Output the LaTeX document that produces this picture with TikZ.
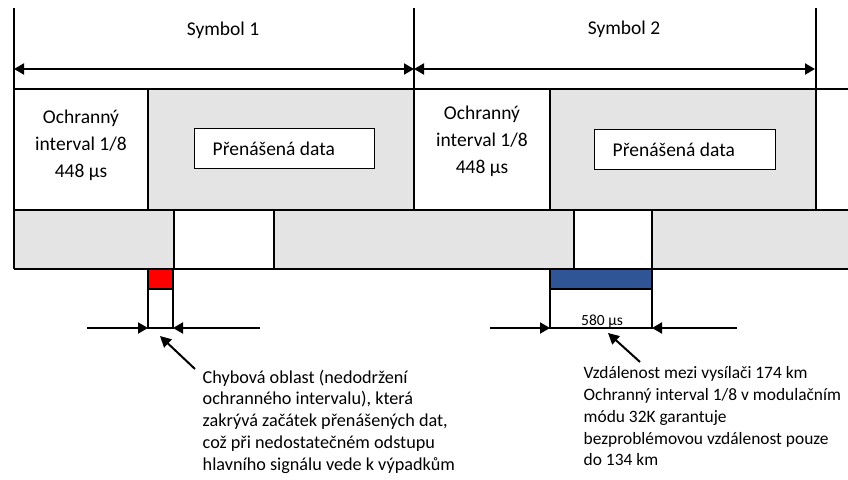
\documentclass[tikz,border=0pt]{standalone}
\usepackage{fontspec}
\setmainfont{Carlito}
\usetikzlibrary{arrows.meta}
\definecolor{gr}{HTML}{E4E4E4}
\definecolor{bl}{HTML}{2F5597}
\begin{document}
\begin{tikzpicture}[x=1pt,y=-1pt,line width=1.4pt,
  big/.style={font=\fontsize{19.5}{27}\selectfont},
  note/.style={font=\fontsize{18.2}{21.8}\selectfont, align=left, anchor=north west, inner sep=0pt},
  noteb/.style={note, font=\fontsize{17.4}{21.8}\selectfont},
  dim/.style={line width=2pt, -{Triangle[length=10pt,width=11pt]}},
  dimboth/.style={line width=2pt, {Triangle[length=10pt,width=11pt]}-{Triangle[length=10pt,width=11pt]}},
  databox/.style={draw, fill=white, line width=0.9pt},
  ptr/.style={line width=2pt, -{Triangle[length=11pt,width=11pt]}}]
\useasboundingbox (0,0) rectangle (848,479);
% fills
\fill[gr] (148,89) rectangle (414,210);
\fill[gr] (550,89) rectangle (816,210);
\fill[gr] (14,210) rectangle (174,269);
\fill[gr] (274,210) rectangle (574,269);
\fill[gr] (652,210) rectangle (848,269);
% row lines
\draw (14,89) -- (848,89);
\draw (14,210) -- (848,210);
\draw (14,269) -- (848,269);
\draw (14,8) -- (14,269);
\draw (148,89) -- (148,210);
\draw (414,8) -- (414,210);
\draw (550,89) -- (550,210);
\draw (816,8) -- (816,210);
\draw (174,210) -- (174,269);
\draw (274,210) -- (274,269);
\draw (574,210) -- (574,269);
\draw (652,210) -- (652,269);
% symbol arrows
\coordinate (s1l) at (14,69);
\coordinate (s1r) at (414,69);
\coordinate (s2r) at (815,69);
\draw[dimboth] (s1l) -- (s1r);
\draw[dimboth] (s1r) -- (s2r);
\node[big] (sym1) at (223,30) {Symbol 1};
\node[big] (sym2) at (624,29) {Symbol 2};
% guard interval texts
\node[big, align=center] (g1) at (81,145) {Ochranný\\interval 1/8\\448 µs};
\node[big, align=center] (g2) at (482,141) {Ochranný\\interval 1/8\\448 µs};
% data boxes
\draw[databox] (194,128) rectangle (374,168);
\draw[databox] (594,129) rectangle (775,169);
\node[big, anchor=west, inner sep=0pt] (d1) at (212,149) {Přenášená data};
\node[big, anchor=west, inner sep=0pt] (d2) at (612,150) {Přenášená data};
% red error area
\draw[fill=red] (148,269) rectangle (173,289);
\draw (148,289) rectangle (173,328);
% blue area
\draw[fill=bl] (550,269) rectangle (652,289);
\draw (550,289) rectangle (652,328);
\node[font=\fontsize{15.5}{18}\selectfont, anchor=base, inner sep=0pt] (t580) at (602,325) {580 µs};
% dimension arrows
\coordinate (a1) at (87,328); \coordinate (a1t) at (148,328);
\coordinate (a2) at (260,328); \coordinate (a2t) at (173,328);
\coordinate (b1) at (490,328); \coordinate (b1t) at (550,328);
\coordinate (b2) at (737,328); \coordinate (b2t) at (652,328);
\draw[dim] (a1) -- (a1t);
\draw[dim] (a2) -- (a2t);
\draw[dim] (b1) -- (b1t);
\draw[dim] (b2) -- (b2t);
% pointer arrows
\coordinate (p1) at (195,369); \coordinate (p1t) at (160,336);
\coordinate (p2) at (640,362); \coordinate (p2t) at (608,333);
\draw[ptr] (p1) -- (p1t);
\draw[ptr] (p2) -- (p2t);
% notes
\node[note] (n1) at (202,369) {Chybová oblast (nedodržení\\ochranného intervalu), která\\zakrývá začátek přenášených dat,\\což při nedostatečném odstupu\\hlavního signálu vede k výpadkům};
\node[noteb] (n2) at (583,366) {Vzdálenost mezi vysílači 174 km\\Ochranný interval 1/8 v modulačním\\módu 32K garantuje\\bezproblémovou vzdálenost pouze\\do 134 km};
\end{tikzpicture}
\end{document}
